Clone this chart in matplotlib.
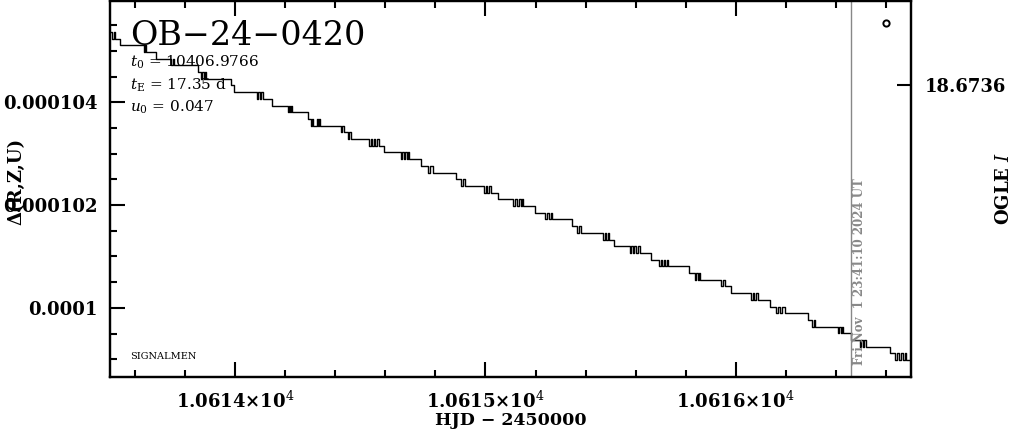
import numpy as np
import matplotlib
matplotlib.use("Agg")
import matplotlib.pyplot as plt
from matplotlib.ticker import MultipleLocator, FuncFormatter, NullLocator
import matplotlib.transforms as mtransforms

plt.rcParams['font.family'] = ['DejaVu Serif']
plt.rcParams['mathtext.fontset'] = 'dejavuserif'

# quantized Delta(R,Z,U) levels, in units of 1e-6
level_delta = [105.370, 105.240, 105.109, 104.979, 104.849, 104.718, 104.588, 104.458,
               104.327, 104.197, 104.067, 103.936, 103.806, 103.675, 103.545, 103.415,
               103.284, 103.154, 103.024, 102.893, 102.763, 102.633, 102.502, 102.372,
               102.242, 102.111, 101.981, 101.851, 101.720, 101.590, 101.460, 101.329,
               101.199, 101.068, 100.938, 100.808, 100.677, 100.547, 100.417, 100.286,
               100.156, 100.026, 99.895, 99.765, 99.635, 99.504, 99.374, 99.244,
               99.113, 98.983]

# HJD-2450000 where the curve moves to the next level
# (several entries = it flickers between the two levels)
step_hjd = [
    [10613.508, 10613.514, 10613.520],
    [10613.540],
    [10613.636, 10613.640, 10613.644],
    [10613.684],
    [10613.744, 10613.750, 10613.756],
    [10613.852],
    [10613.862, 10613.868, 10613.874, 10613.878, 10613.882],
    [10613.983],
    [10613.996],
    [10614.085, 10614.092, 10614.098, 10614.104, 10614.112],
    [10614.145],
    [10614.209, 10614.214, 10614.220, 10614.224, 10614.227],
    [10614.289],
    [10614.303, 10614.308, 10614.312, 10614.325, 10614.332, 10614.336, 10614.339],
    [10614.423, 10614.428, 10614.436],
    [10614.449, 10614.456, 10614.463],
    [10614.536, 10614.542, 10614.548, 10614.554, 10614.560, 10614.568, 10614.576],
    [10614.596],
    [10614.663, 10614.668, 10614.674, 10614.680, 10614.686, 10614.692, 10614.696],
    [10614.743],
    [10614.769, 10614.780, 10614.792],
    [10614.883],
    [10614.903, 10614.910, 10614.919],
    [10614.996, 10615.002, 10615.008, 10615.016, 10615.024],
    [10615.052],
    [10615.112, 10615.118, 10615.124, 10615.132, 10615.140, 10615.144, 10615.148],
    [10615.196],
    [10615.236, 10615.244, 10615.252, 10615.260, 10615.267],
    [10615.345],
    [10615.365, 10615.374, 10615.383],
    [10615.469, 10615.476, 10615.482, 10615.488, 10615.493],
    [10615.513],
    [10615.576, 10615.582, 10615.588, 10615.594, 10615.600, 10615.608, 10615.616],
    [10615.663],
    [10615.693, 10615.700, 10615.706, 10615.712, 10615.718, 10615.724, 10615.729],
    [10615.813],
    [10615.836, 10615.842, 10615.848, 10615.852, 10615.856],
    [10615.943, 10615.950, 10615.956],
    [10615.983],
    [10616.063, 10616.068, 10616.074, 10616.080, 10616.089],
    [10616.136],
    [10616.160, 10616.168, 10616.176, 10616.184, 10616.196],
    [10616.289],
    [10616.307, 10616.312, 10616.316],
    [10616.408, 10616.414, 10616.420, 10616.424, 10616.428],
    [10616.463],
    [10616.496, 10616.502, 10616.508, 10616.514, 10616.520],
    [10616.616],
    [10616.636, 10616.644, 10616.652, 10616.660, 10616.668, 10616.676, 10616.680],
]
hjd_first, hjd_last = 10613.45, 10616.75

ogle_hjd = [10616.603]
ogle_mag = [18.67301]

now_hjd = 10616.463
now_label = 'Fri Nov  1 23:41:10 2024 UT'

event = 'OB\u221224\u22120420'
params = [r'$t_0$ = 10406.9766', r'$t_{\rm E}$ = 17.35 d', r'$u_0$ = 0.047']

# build the step curve
lev = np.array(level_delta) * 1e-6
t = [hjd_first]
d = [lev[0]]
for i, sw in enumerate(step_hjd):
    for j, s in enumerate(sw):
        t.append(s)
        d.append(lev[i + 1] if j % 2 == 0 else lev[i])
t.append(hjd_last)
d.append(lev[-1])

fig = plt.figure(figsize=(10.14, 4.34), dpi=100)
ax = fig.add_axes([0.1088, 0.1320, 0.7893, 0.8657])
ax.plot(t, d, color='k', lw=1.0, drawstyle='steps-post')
ax.axvline(now_hjd, color='#888888', lw=1.0)

ax.set_xlim(10613.5, 10616.7)
ax.set_ylim(0.00009866, 0.00010597)
ax.xaxis.set_major_locator(MultipleLocator(1))
ax.xaxis.set_minor_locator(MultipleLocator(0.2))
ax.yaxis.set_major_locator(MultipleLocator(2e-6))
ax.yaxis.set_minor_locator(MultipleLocator(5e-7))
ax.xaxis.set_major_formatter(FuncFormatter(lambda v, p: '%.4f\u00d710$^{4}$' % (v / 1e4)))
ax.yaxis.set_major_formatter(FuncFormatter(lambda v, p: '%g' % v))

ax.tick_params(which='both', direction='in', top=True, right=False, width=1.5, labelsize=13)
ax.tick_params(which='major', length=11)
ax.tick_params(which='minor', length=5)
ax.tick_params(axis='y', pad=9)
ax.tick_params(axis='x', pad=10)
for sp in ax.spines.values():
    sp.set_linewidth(1.6)

ax.set_xlabel('HJD \u2212 2450000', fontsize=12.5, fontweight='bold', labelpad=0)
ax.set_ylabel('\u0394(R,Z,U)', fontsize=13, fontweight='bold')
ax.yaxis.set_label_coords(-0.1066, 0.52)

ax.text(0.0246, 0.8829, event, transform=ax.transAxes, fontsize=24, va='baseline')
for k, s in enumerate(params):
    ax.text(0.0246, 0.8243 - k * 0.06, s, transform=ax.transAxes, fontsize=11, va='baseline')
ax.text(0.0246, 0.0471, 'SIGNALMEN', transform=ax.transAxes, fontsize=7, va='baseline')

trans = mtransforms.blended_transform_factory(ax.transData, ax.transAxes)
ax.text(now_hjd + 0.005, 0.031, now_label, transform=trans, rotation=90,
        ha='left', va='bottom', color='#888888', fontsize=8.5, fontweight='bold')

ax2 = ax.twinx()
ax2.plot(ogle_hjd, ogle_mag, 'o', mfc='none', mec='k', ms=4.5, mew=1.4)
ax2.set_ylim(18.67638, 18.6728)
ax2.set_yticks([18.6736])
ax2.yaxis.set_major_formatter(FuncFormatter(lambda v, p: '%.4f' % v))
ax2.yaxis.set_minor_locator(NullLocator())
ax2.tick_params(axis='y', direction='in', length=10, width=1.5, labelsize=13, pad=10)
ax2.set_ylabel('OGLE $I$', fontsize=13, fontweight='bold')
ax2.yaxis.set_label_coords(1.105, 0.5)
for sp in ax2.spines.values():
    sp.set_linewidth(1.6)

for lbl in ax.get_xticklabels() + ax.get_yticklabels() + ax2.get_yticklabels():
    lbl.set_fontweight('bold')

fig.savefig('out.png', dpi=100)
